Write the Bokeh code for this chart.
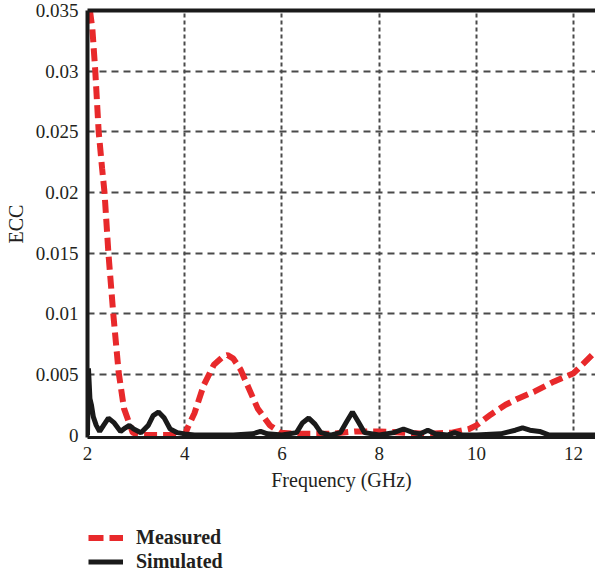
from bokeh.plotting import figure
from bokeh.layouts import column
from bokeh.models import Range1d, LinearAxis, FixedTicker, Legend, LegendItem
from bokeh.embed import file_html
from bokeh.resources import INLINE

# Measured ECC (red dashed)
measured_x = [2.05, 2.1, 2.16, 2.23, 2.3, 2.35, 2.43, 2.53, 2.64, 2.75, 2.93, 3.1, 3.5,
              4.0, 4.06, 4.2, 4.39, 4.6, 4.8, 4.88, 5.0, 5.15, 5.29, 5.5, 5.75, 5.97,
              6.3, 7.0, 7.5, 8.0, 8.5, 9.0, 9.5, 9.85, 10.0, 10.3, 10.6, 10.85, 11.2,
              11.59, 12.0, 12.38]
measured_y = [0.035, 0.0335, 0.030, 0.025, 0.022, 0.020, 0.015, 0.010, 0.0052, 0.0022,
              0.0002, 0.0, 0.0,
              0.0, 0.0006, 0.0018, 0.0041, 0.0058, 0.0065, 0.0066, 0.0063, 0.0054, 0.0041,
              0.0022, 0.0008, 0.0002,
              0.0001, 0.0001, 0.0003, 0.0003, 0.0002, 0.0001, 0.0002, 0.0005, 0.0008,
              0.0017, 0.0025, 0.003, 0.0036, 0.0044, 0.0051, 0.0066]

# Simulated ECC (black solid)
sim_x = [2.0, 2.02, 2.05, 2.08, 2.12, 2.18, 2.25, 2.33, 2.43, 2.55, 2.68, 2.78, 2.86,
         2.95, 3.1, 3.25, 3.35, 3.46, 3.58, 3.7, 3.85, 4.0, 4.2, 4.5, 5.0, 5.4, 5.56,
         5.7, 6.0, 6.3, 6.42, 6.55, 6.68, 6.8, 7.0, 7.2, 7.33, 7.45, 7.57, 7.7, 8.0,
         8.3, 8.5, 8.7, 8.85, 9.0, 9.15, 9.4, 9.55, 9.7, 10.0, 10.5, 10.8, 10.95, 11.1,
         11.3, 11.5, 12.0, 12.45]
sim_y = [0.0, 0.0055, 0.003, 0.0025, 0.0015, 0.0008, 0.0003, 0.0008, 0.0014, 0.001,
         0.0003, 0.0006, 0.0008, 0.0005, 0.0002, 0.0008, 0.0016, 0.0019, 0.0014, 0.0005,
         0.0002, 0.0001, 0.0, 0.0, 0.0, 0.0001, 0.0003, 0.0001, 0.0, 0.0002, 0.001,
         0.0014, 0.0009, 0.0002, 0.0, 0.0002, 0.0011, 0.0019, 0.0011, 0.0002, 0.0,
         0.0002, 0.0005, 0.0002, 0.0001, 0.0004, 0.0001, 0.0, 0.0002, 0.0, 0.0, 0.0001,
         0.0004, 0.0006, 0.0004, 0.0003, 0.0, 0.0, 0.0]

x_ticks = [2, 4, 6, 8, 10, 12]
y_ticks = [0, 0.005, 0.01, 0.015, 0.02, 0.025, 0.03, 0.035]
y_tick_labels = {0: "0", 0.005: "0.005", 0.01: "0.01", 0.015: "0.015", 0.02: "0.02",
                 0.025: "0.025", 0.03: "0.03", 0.035: "0.035"}
series_labels = ["Measured", "Simulated"]

FONT = "Liberation Serif"
RED = "#e8292b"
BLACK = "#1a1a1a"
TEXT = "#231f20"

p = figure(width=595, height=505, output_backend="svg", toolbar_location=None,
           x_range=Range1d(2, 12.45), y_range=Range1d(-0.0002, 0.035),
           min_border_left=87, min_border_right=0, min_border_top=10,
           min_border_bottom=68)
p.outline_line_color = None
p.background_fill_color = "white"
p.border_fill_color = "white"

# grids
p.xgrid.ticker = FixedTicker(ticks=[4, 6, 8, 10, 12])
p.ygrid.ticker = FixedTicker(ticks=[0.005, 0.01, 0.015, 0.02, 0.025, 0.03])
p.xgrid.grid_line_color = "#4a4a4a"
p.xgrid.grid_line_dash = "4 3"
p.xgrid.grid_line_width = 2
p.ygrid.grid_line_color = "#4a4a4a"
p.ygrid.grid_line_dash = "7 5"
p.ygrid.grid_line_width = 2

# axes
p.xaxis.ticker = FixedTicker(ticks=x_ticks)
p.yaxis.ticker = FixedTicker(ticks=y_ticks)
p.yaxis.major_label_overrides = y_tick_labels
for ax in (p.xaxis[0], p.yaxis[0]):
    ax.major_tick_in = 0
    ax.major_tick_out = 0
    ax.minor_tick_in = 0
    ax.minor_tick_out = 0
    ax.axis_line_color = BLACK
    ax.major_label_text_font = FONT
    ax.major_label_text_font_size = "19px"
    ax.major_label_text_color = TEXT
    ax.axis_label_text_font = FONT
    ax.axis_label_text_font_size = "20px"
    ax.axis_label_text_font_style = "normal"
    ax.axis_label_text_color = TEXT
p.yaxis.axis_line_width = 4
p.xaxis.axis_line_width = 3
p.xaxis.axis_label = "Frequency (GHz)"
p.yaxis.axis_label = "ECC"
p.xaxis.major_label_standoff = 9
p.yaxis.major_label_standoff = 9
p.xaxis.axis_label_standoff = 6
p.yaxis.axis_label_standoff = 6

top_axis = LinearAxis(ticker=FixedTicker(ticks=[]), axis_line_width=4,
                      axis_line_color=BLACK, major_tick_in=0, major_tick_out=0,
                      minor_tick_in=0, minor_tick_out=0)
p.add_layout(top_axis, "above")

p.line(measured_x, measured_y, line_color=RED, line_width=6, line_dash="13 6")
p.line(sim_x, sim_y, line_color=BLACK, line_width=5)

# legend strip below the plot
pl = figure(width=595, height=72, output_backend="svg", toolbar_location=None,
            x_axis_location=None, y_axis_location=None, min_border=0,
            x_range=Range1d(2, 12.45), y_range=Range1d(-0.0002, 0.035))
pl.grid.visible = False
pl.outline_line_color = None
lm = pl.line(measured_x, measured_y, line_color=RED, line_width=6, line_dash="15 6",
             visible=False)
ls = pl.line(sim_x, sim_y, line_color=BLACK, line_width=5, visible=False)
legend = Legend(items=[LegendItem(label=series_labels[0], renderers=[lm]),
                       LegendItem(label=series_labels[1], renderers=[ls])],
                location=(1, 4), orientation="vertical",
                background_fill_alpha=0, border_line_color=None,
                inactive_fill_alpha=0,
                padding=0, margin=0, spacing=1,
                glyph_width=35, glyph_height=19, label_height=19,
                label_standoff=13,
                label_text_font=FONT, label_text_font_size="20px",
                label_text_font_style="bold", label_text_color=TEXT)
pl.add_layout(legend, "center")

layout = column(p, pl, spacing=0)
open("out.html", "w").write(file_html(layout, INLINE))
